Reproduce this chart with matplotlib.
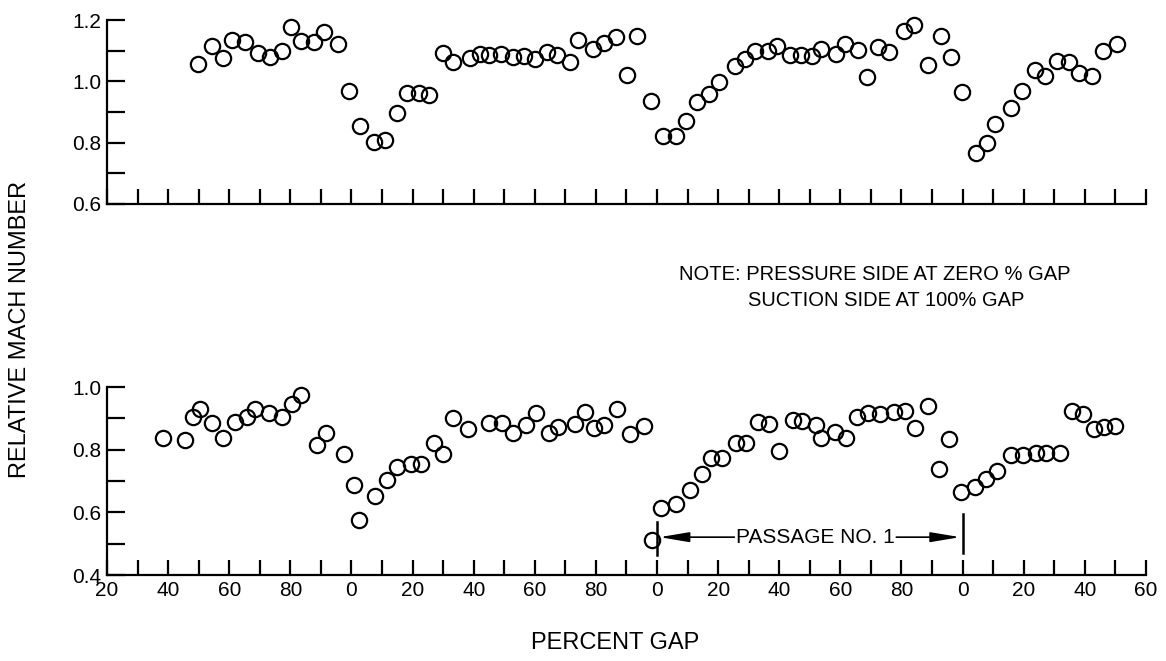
import matplotlib
matplotlib.use('Agg')
import matplotlib.pyplot as plt
import numpy as np

plt.rcParams['font.family'] = ['Liberation Sans', 'DejaVu Sans']

# percent gap along the rotor, three passages laid end to end (100 = next blade)
top_x = [49.9, 54.4, 57.9, 61.0, 65.3, 69.3, 73.3, 77.3, 80.1, 83.5, 87.7, 91.1,
         95.7, 99.1, 102.7, 107.5, 111.1, 114.9, 118.3, 122.0, 125.5, 130.0, 133.3,
         138.8, 142.1, 145.1, 148.8, 153.0, 156.3, 160.1, 164.1, 167.2, 171.5, 174.0,
         179.1, 182.6, 186.6, 190.3, 193.4, 198.1, 202.0, 206.2, 209.6, 213.0, 217.1,
         220.4, 225.5, 228.8, 232.1, 236.3, 239.1, 243.5, 247.1, 250.7, 253.8, 258.7,
         261.6, 265.8, 268.7, 272.4, 275.9, 280.8, 284.1, 288.6, 292.8, 296.1, 299.7,
         304.4, 308.0, 310.7, 315.7, 319.6, 323.7, 326.9, 330.8, 334.9, 338.1, 342.2,
         345.8, 350.4]
top_m = [1.057, 1.115, 1.076, 1.136, 1.129, 1.093, 1.081, 1.100, 1.178, 1.132, 1.130, 1.161,
         1.124, 0.969, 0.854, 0.801, 0.809, 0.898, 0.962, 0.962, 0.957, 1.092, 1.063,
         1.076, 1.089, 1.086, 1.089, 1.079, 1.083, 1.072, 1.096, 1.085, 1.063, 1.134,
         1.107, 1.126, 1.144, 1.020, 1.149, 0.937, 0.823, 0.822, 0.872, 0.932, 0.958,
         0.999, 1.049, 1.072, 1.100, 1.101, 1.117, 1.085, 1.086, 1.083, 1.107, 1.089,
         1.124, 1.102, 1.013, 1.111, 1.095, 1.165, 1.186, 1.054, 1.150, 1.081, 0.966,
         0.767, 0.800, 0.860, 0.912, 0.969, 1.037, 1.018, 1.067, 1.062, 1.028, 1.019,
         1.099, 1.122]

bot_x = [38.3, 45.4, 48.2, 50.4, 54.4, 58.0, 61.8, 65.7, 68.5, 72.9, 77.2, 80.6, 83.5,
         88.7, 91.8, 97.5, 100.8, 102.6, 107.7, 111.5, 114.9, 119.5, 122.7, 127.0, 129.8,
         133.3, 138.2, 145.1, 149.1, 153.0, 157.1, 160.4, 164.7, 167.7, 173.1, 176.4,
         179.4, 182.6, 187.0, 191.1, 195.8, 198.2, 201.2, 206.2, 210.8, 214.6, 217.5,
         221.4, 226.0, 229.1, 233.1, 236.7, 240.0, 244.6, 247.5, 252.1, 253.6, 258.3,
         261.8, 265.4, 269.0, 273.0, 277.4, 281.2, 284.5, 288.8, 292.3, 295.4, 299.5,
         304.1, 307.7, 311.2, 315.9, 319.7, 324.1, 327.4, 332.0, 335.8, 339.3, 342.9,
         346.2, 349.8]
bot_m = [0.837, 0.831, 0.906, 0.931, 0.886, 0.837, 0.887, 0.904, 0.931, 0.916, 0.905, 0.946, 0.974,
         0.816, 0.854, 0.788, 0.689, 0.575, 0.653, 0.705, 0.746, 0.756, 0.756, 0.820, 0.788,
         0.900, 0.865, 0.884, 0.884, 0.852, 0.878, 0.918, 0.852, 0.873, 0.882, 0.922,
         0.868, 0.878, 0.929, 0.850, 0.876, 0.512, 0.615, 0.626, 0.671, 0.722, 0.774,
         0.774, 0.820, 0.820, 0.889, 0.882, 0.796, 0.894, 0.892, 0.879, 0.839, 0.856,
         0.836, 0.903, 0.918, 0.914, 0.922, 0.924, 0.870, 0.940, 0.738, 0.834, 0.666,
         0.680, 0.706, 0.733, 0.783, 0.783, 0.790, 0.790, 0.791, 0.923, 0.914, 0.865,
         0.873, 0.875]

x_ticks = np.arange(20, 361, 10)
x_labels = [str(v % 100) if v % 20 == 0 else '' for v in x_ticks]
top_yticks = [0.6, 0.7, 0.8, 0.9, 1.0, 1.1, 1.2]
bot_yticks = [0.4, 0.5, 0.6, 0.7, 0.8, 0.9, 1.0]

fig = plt.figure(figsize=(11.66, 6.61), dpi=100)
ax1 = fig.add_axes([0.0918, 0.6914, 0.891, 0.278])
ax2 = fig.add_axes([0.0918, 0.130, 0.891, 0.2844])


def style(ax, yticks, ylim):
    for s in ['top', 'right']:
        ax.spines[s].set_visible(False)
    for s in ['left', 'bottom']:
        ax.spines[s].set_linewidth(1.6)
    ax.set_xlim(20, 360)
    ax.set_ylim(*ylim)
    ax.set_xticks(x_ticks)
    ax.set_yticks(yticks)
    ax.set_yticklabels(['%.1f' % v if i % 2 == 0 else '' for i, v in enumerate(yticks)])
    ax.tick_params(axis='x', direction='in', length=11, width=1.6, labelsize=15, pad=4)
    ax.tick_params(axis='y', direction='in', length=13, width=1.6, labelsize=15, pad=4)


style(ax1, top_yticks, (0.6, 1.2))
ax1.set_xticklabels([''] * len(x_ticks))
ax1.plot(top_x, top_m, 'o', mfc='none', mec='black', ms=11, mew=1.6, clip_on=False)

style(ax2, bot_yticks, (0.4, 1.0))
ax2.set_xticklabels(x_labels)
ax2.plot(bot_x, bot_m, 'o', mfc='none', mec='black', ms=11, mew=1.6, clip_on=False)

# passage no. 1 marker
ax2.plot([200, 200], [0.465, 0.57], color='black', lw=1.8)
ax2.plot([300, 300], [0.472, 0.595], color='black', lw=1.8)
ax2.text(251.7, 0.521, 'PASSAGE NO. 1', ha='center', va='center', fontsize=15)
arrow = dict(arrowstyle='-|>,head_length=0.9,head_width=0.15', color='black', lw=1.2,
             mutation_scale=20, shrinkA=0, shrinkB=0)
ax2.annotate('', xy=(200.8, 0.521), xytext=(225.3, 0.521), arrowprops=arrow)
ax2.annotate('', xy=(299.2, 0.521), xytext=(278.3, 0.521), arrowprops=arrow)

fig.text(0.5823, 0.584, 'NOTE: PRESSURE SIDE AT ZERO % GAP', ha='left', va='center', fontsize=14.5)
fig.text(0.6415, 0.546, 'SUCTION SIDE AT 100% GAP', ha='left', va='center', fontsize=14.5)
fig.text(0.017, 0.502, 'RELATIVE MACH NUMBER', rotation=90, ha='center', va='center', fontsize=17)
fig.text(0.5275, 0.027, 'PERCENT GAP', ha='center', va='center', fontsize=17)

fig.savefig('out.png', dpi=100)
